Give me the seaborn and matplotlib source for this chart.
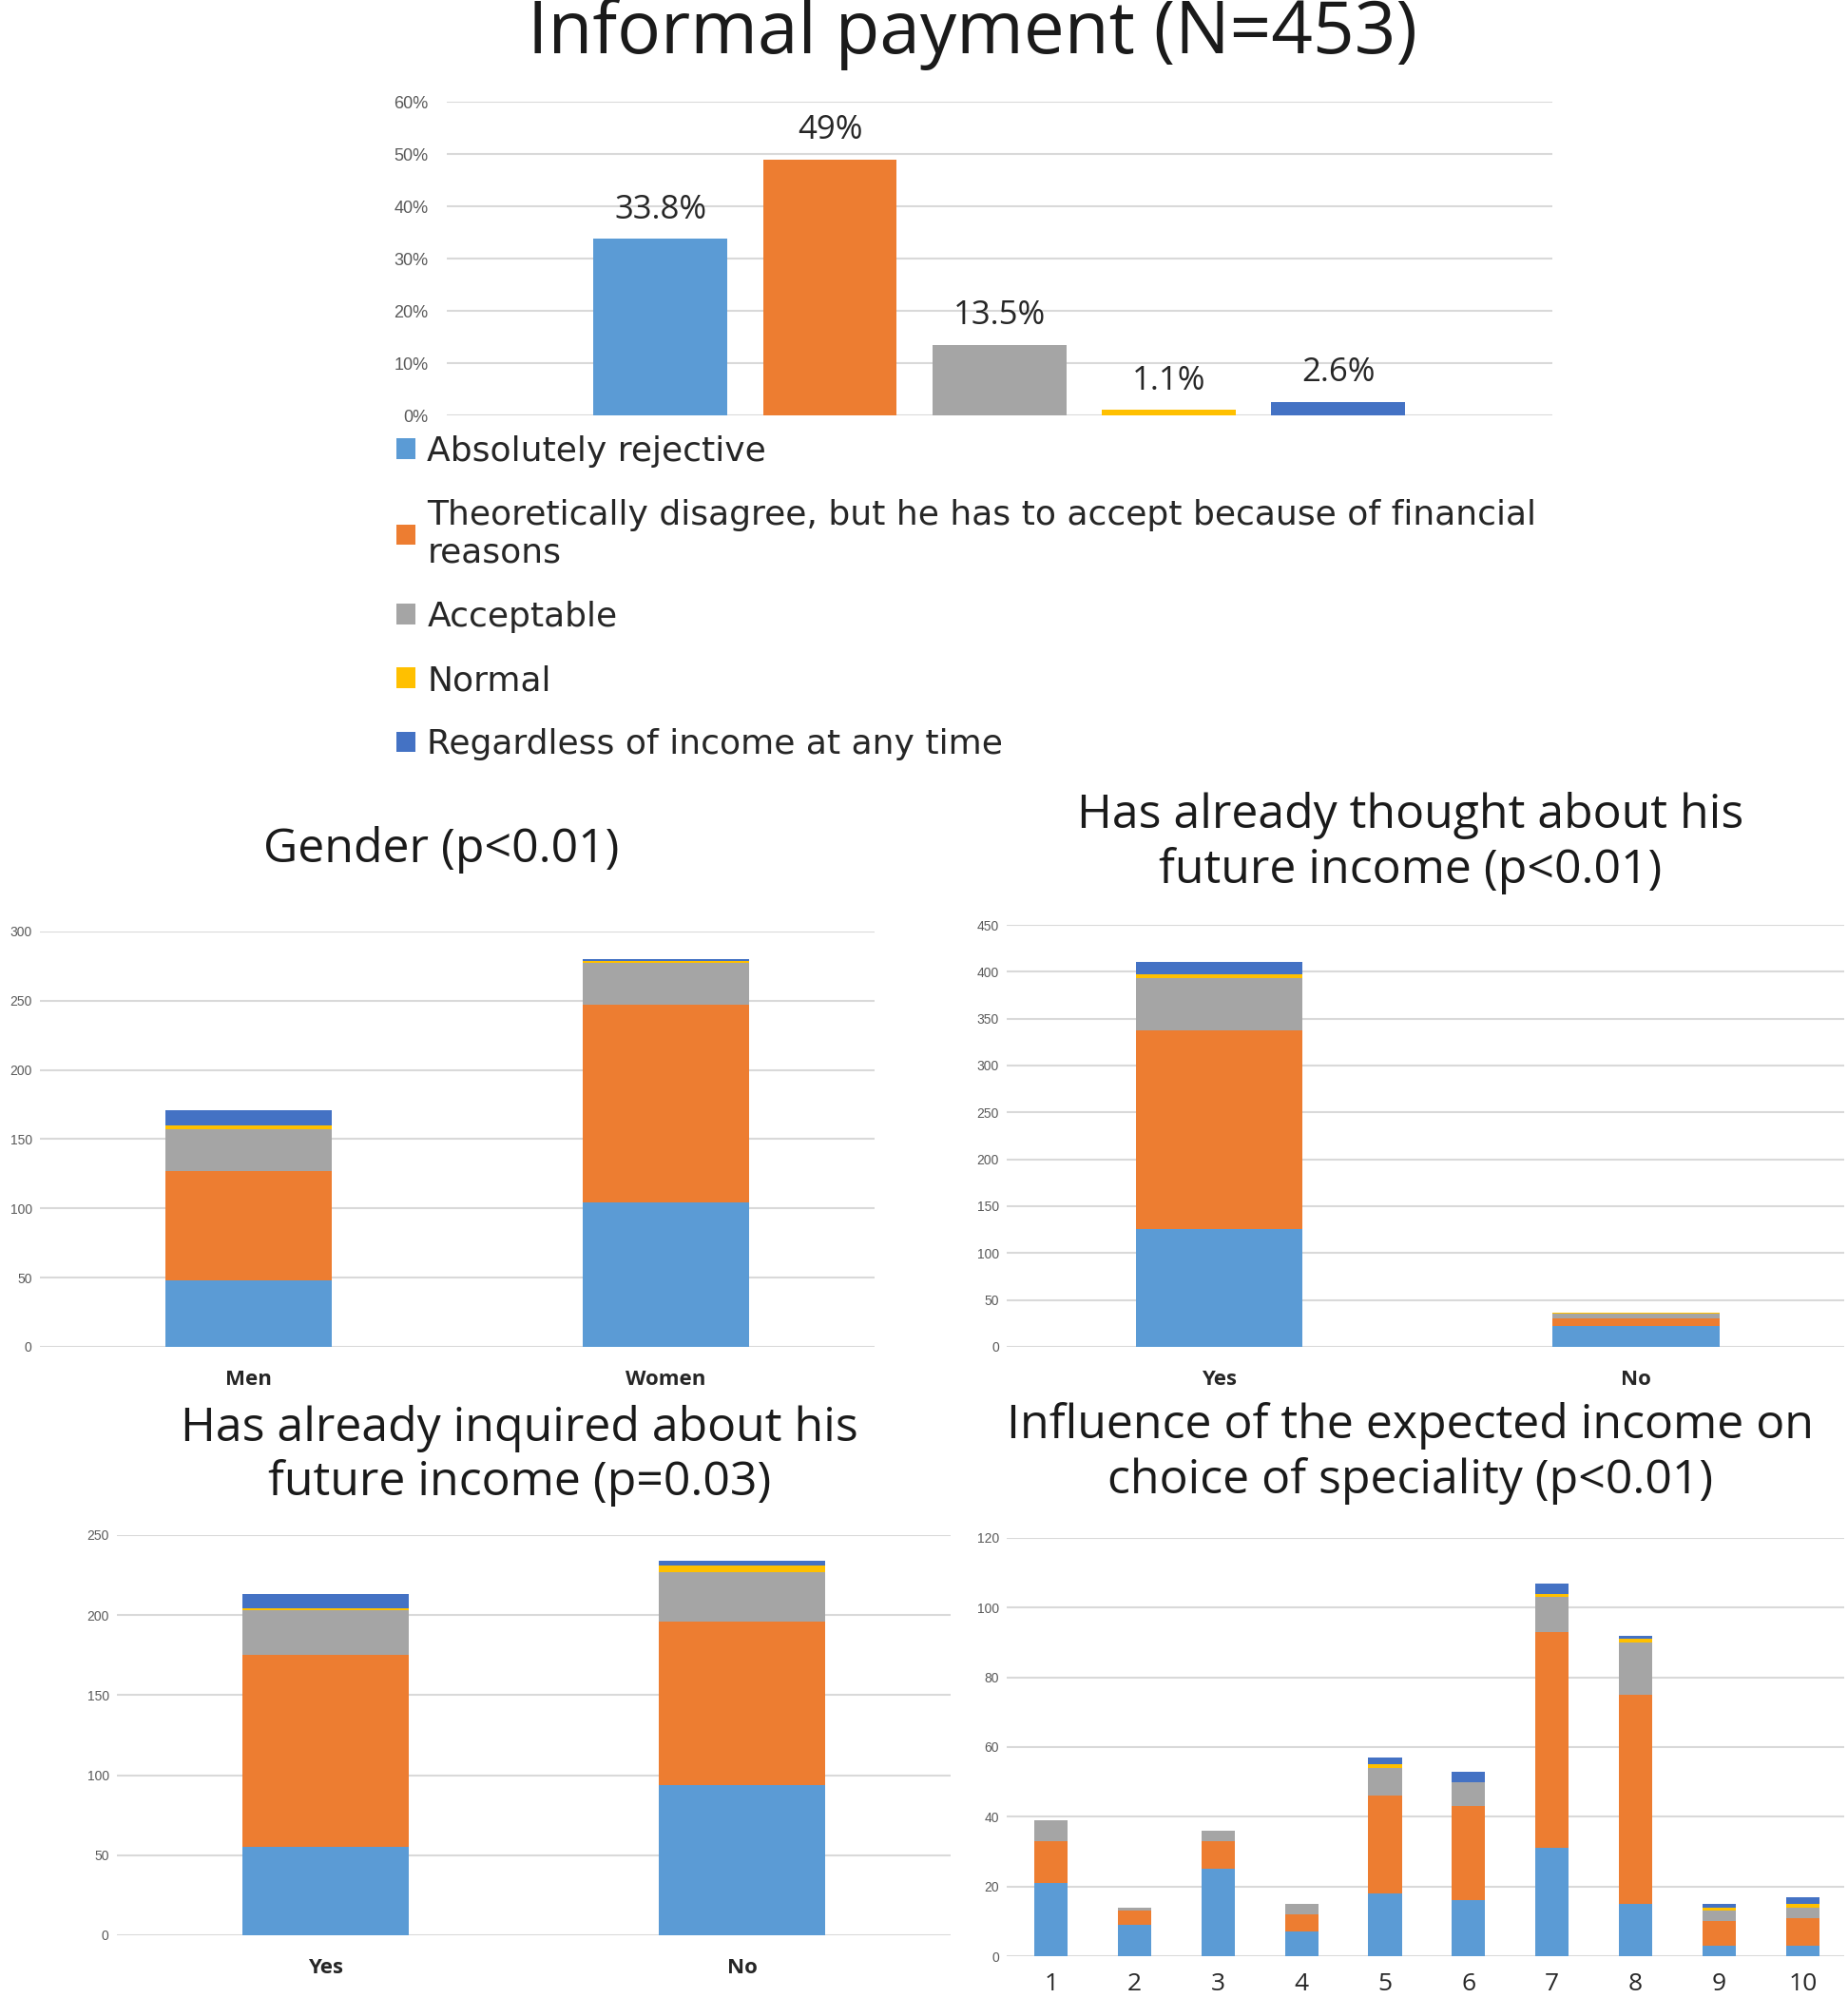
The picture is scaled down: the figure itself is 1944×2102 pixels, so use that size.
import matplotlib
matplotlib.use('Agg')
import matplotlib.pyplot as plt
import seaborn as sns
import numpy as np
import pandas as pd
from matplotlib.patches import Patch

# categories of the answer
answers = ['Absolutely rejective',
           'Theoretically disagree, but he has to accept because of financial\nreasons',
           'Acceptable', 'Normal', 'Regardless of income at any time']
colors = ['#5B9BD5', '#ED7D31', '#A5A5A5', '#FFC000', '#4472C4']

# overall percentages
overall_pct = [33.8, 49, 13.5, 1.1, 2.6]
overall_lbl = ['33.8%', '49%', '13.5%', '1.1%', '2.6%']

# counts per group, one list per answer (rejective, theoretically, acceptable, normal, regardless)
gender_groups = ['Men', 'Women']
gender_rej = [48, 104]
gender_theo = [79, 143]
gender_acc = [30, 30]
gender_norm = [3, 2]
gender_reg = [11, 1]

thought_groups = ['Yes', 'No']
thought_rej = [126, 22]
thought_theo = [212, 8]
thought_acc = [55, 5]
thought_norm = [4, 1]
thought_reg = [13, 0]

inquired_groups = ['Yes', 'No']
inquired_rej = [55, 94]
inquired_theo = [120, 102]
inquired_acc = [28, 31]
inquired_norm = [1, 4]
inquired_reg = [9, 3]

influence_groups = ['1', '2', '3', '4', '5', '6', '7', '8', '9', '10']
influence_rej = [21, 9, 25, 7, 18, 16, 31, 15, 3, 3]
influence_theo = [12, 4, 8, 5, 28, 27, 62, 60, 7, 8]
influence_acc = [6, 1, 3, 3, 8, 7, 10, 15, 3, 3]
influence_norm = [0, 0, 0, 0, 1, 0, 1, 1, 1, 1]
influence_reg = [0, 0, 0, 0, 2, 3, 3, 1, 1, 2]

sns.set_theme(style="white")
plt.rcParams['font.family'] = ['Open Sans', 'DejaVu Sans']

fig = plt.figure(figsize=(19.44, 21.02), dpi=100)


def style_axis(ax, ymax, step, fmt='{:d}', size=10, pad=6):
    ax.set_ylim(0, ymax)
    ticks = np.arange(0, ymax + 1, step)
    ax.set_yticks(ticks)
    ax.set_yticklabels([fmt.format(int(t)) for t in ticks], fontsize=size, color='#595959',
                       family=['Liberation Sans', 'DejaVu Sans'])
    ax.yaxis.grid(True, color='#d9d9d9', linewidth=1.5)
    ax.set_axisbelow(True)
    for s in ax.spines.values():
        s.set_visible(False)
    ax.tick_params(axis='y', length=0, pad=pad)
    ax.tick_params(axis='x', length=0, pad=17)
    ax.set_xlabel('')
    ax.set_ylabel('')


def stacked(ax, groups, parts, width):
    df = pd.DataFrame({'group': groups})
    cum = np.cumsum(np.array(parts), axis=0)
    # draw from the top layer down so lower layers cover upper ones
    for i in range(len(parts) - 1, -1, -1):
        df['v'] = cum[i]
        sns.barplot(data=df, x='group', y='v', order=groups, color=colors[i],
                    width=width, saturation=1, ax=ax, linewidth=0)


# --- top chart ---
ax0 = fig.add_axes([0.2418, 0.792, 0.598, 0.157])
top_df = pd.DataFrame({'answer': answers, 'pct': overall_pct})
sns.barplot(data=top_df, x='answer', y='pct', hue='answer', palette=colors,
            saturation=1, width=0.79, legend=False, ax=ax0, linewidth=0)
style_axis(ax0, 60, 10, '{:d}%', size=13, pad=14)
ax0.set_xlim(-1.26, 5.26)
ax0.set_xticks([])
for i, (v, lbl) in enumerate(zip(overall_pct, overall_lbl)):
    ax0.annotate(lbl, (i, v), xytext=(0, 22), textcoords='offset points',
                 ha='center', va='center', fontsize=25, color='#262626')
fig.text(0.526, 0.983, 'Informal payment (N=453)', ha='center', va='center',
         fontsize=55, color='#1a1a1a')

handles = [Patch(facecolor=c, edgecolor='none') for c in colors]
leg = fig.legend(handles, answers, loc='upper left', bbox_to_anchor=(0.207, 0.789),
                 frameon=False, handlelength=0.55, handleheight=0.55,
                 handletextpad=0.35, labelspacing=0.92, borderaxespad=0,
                 prop={'family': ['DejaVu Sans'], 'size': 26})
for t in leg.get_texts():
    t.set_color('#262626')
    t.set_linespacing(1.2)

# --- gender ---
ax1 = fig.add_axes([0.0216, 0.3259, 0.4517, 0.2079])
stacked(ax1, gender_groups, [gender_rej, gender_theo, gender_acc, gender_norm, gender_reg], 0.4)
style_axis(ax1, 300, 50)
ax1.set_xlim(-0.5, 1.5)
ax1.set_xticks([0, 1])
ax1.set_xticklabels(gender_groups, fontsize=16, fontweight='bold', color='#262626')
fig.text(0.239, 0.5747, 'Gender (p<0.01)', ha='center', va='center', fontsize=36, color='#1a1a1a')

# --- thought about income ---
ax2 = fig.add_axes([0.5448, 0.3259, 0.4532, 0.2112])
stacked(ax2, thought_groups, [thought_rej, thought_theo, thought_acc, thought_norm, thought_reg], 0.4)
style_axis(ax2, 450, 50)
ax2.set_xlim(-0.51, 1.5)
ax2.set_xticks([0, 1])
ax2.set_xticklabels(thought_groups, fontsize=16, fontweight='bold', color='#262626')
fig.text(0.763, 0.578, 'Has already thought about his\nfuture income (p<0.01)', ha='center',
         va='center', fontsize=36, color='#1a1a1a', linespacing=1.2)

# --- inquired about income ---
ax3 = fig.add_axes([0.0633, 0.0314, 0.4511, 0.2003])
stacked(ax3, inquired_groups, [inquired_rej, inquired_theo, inquired_acc, inquired_norm, inquired_reg], 0.4)
style_axis(ax3, 250, 50)
ax3.set_xlim(-0.5, 1.5)
ax3.set_xticks([0, 1])
ax3.set_xticklabels(inquired_groups, fontsize=16, fontweight='bold', color='#262626')
fig.text(0.281, 0.2715, 'Has already inquired about his\nfuture income (p=0.03)', ha='center',
         va='center', fontsize=36, color='#1a1a1a', linespacing=1.2)

# --- influence on choice of speciality ---
ax4 = fig.add_axes([0.5448, 0.0209, 0.4532, 0.2094])
stacked(ax4, influence_groups, [influence_rej, influence_theo, influence_acc, influence_norm, influence_reg], 0.4)
style_axis(ax4, 120, 20)
ax4.set_xlim(-0.53, 9.5)
ax4.set_xticklabels(influence_groups, fontsize=19, color='#262626')
ax4.tick_params(axis='x', pad=12)
fig.text(0.763, 0.2725, 'Influence of the expected income on\nchoice of speciality (p<0.01)', ha='center',
         va='center', fontsize=36, color='#1a1a1a', linespacing=1.2)

fig.savefig('out.png', dpi=100)
